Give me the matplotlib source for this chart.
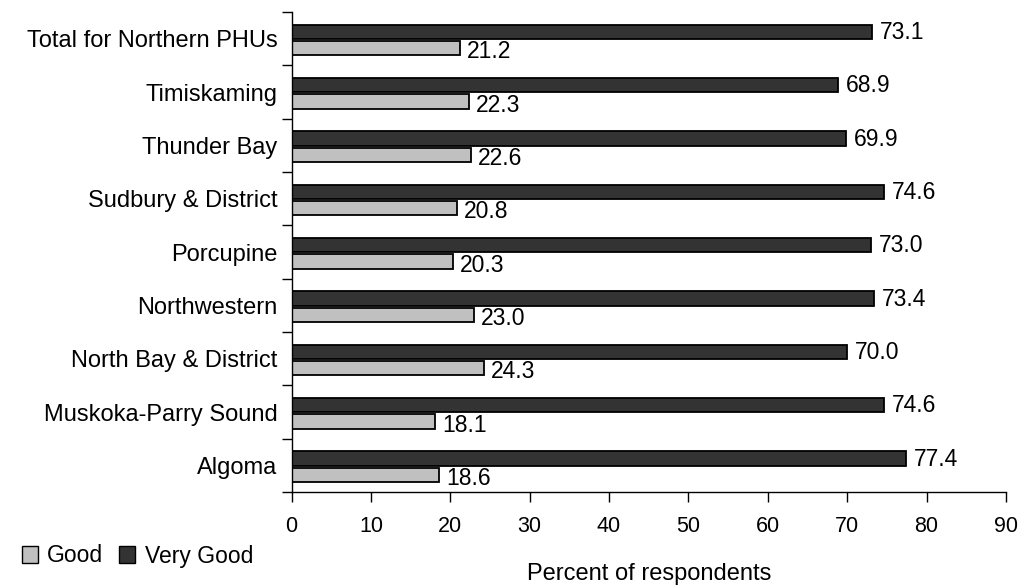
import matplotlib
matplotlib.use("Agg")
import matplotlib.pyplot as plt
import numpy as np
from matplotlib.patches import Patch

plt.rcParams['font.family'] = ['Liberation Sans', 'DejaVu Sans']

categories = ["Algoma", "Muskoka-Parry Sound", "North Bay & District", "Northwestern",
              "Porcupine", "Sudbury & District", "Thunder Bay", "Timiskaming",
              "Total for Northern PHUs"]
good = [18.6, 18.1, 24.3, 23.0, 20.3, 20.8, 22.6, 22.3, 21.2]
very_good = [77.4, 74.6, 70.0, 73.4, 73.0, 74.6, 69.9, 68.9, 73.1]
x_ticks = [0, 10, 20, 30, 40, 50, 60, 70, 80, 90]

c_good = "#c0c0c0"
c_vgood = "#333333"
fs_text = 17
fs_tick = 15.5
fs_val = 16.5

fig = plt.figure(figsize=(10.22, 5.85), dpi=100)
ax = fig.add_axes([291.5 / 1022, 1 - 492 / 585, 714.5 / 1022, 480 / 585])

y = np.arange(len(categories))
h = 0.27
off_vg = 0.13
off_g = 0.18
ax.barh(y + off_vg, very_good, height=h, color=c_vgood, edgecolor="black", linewidth=1.3)
ax.barh(y - off_g, good, height=h, color=c_good, edgecolor="black", linewidth=1.3)

for yi, v in zip(y, very_good):
    ax.annotate(f"{v:.1f}", (v, yi + off_vg), xytext=(5.5, -0.5), textcoords="offset points",
                va="center", ha="left", fontsize=fs_val)
for yi, v in zip(y, good):
    ax.annotate(f"{v:.1f}", (v, yi - off_g), xytext=(5, -2.5), textcoords="offset points",
                va="center", ha="left", fontsize=fs_val)

ax.set_xlim(0, 90)
ax.set_ylim(-0.5, len(categories) - 0.5)
ax.set_xticks(x_ticks)
ax.set_xticklabels([str(t) for t in x_ticks], fontsize=fs_tick)
ax.set_yticks(y)
ax.set_yticklabels(categories, fontsize=fs_text)
ax.set_yticks(np.arange(-0.5, len(categories)), minor=True)
ax.tick_params(axis="y", which="major", length=0, pad=10)
ax.tick_params(axis="y", which="minor", length=7, width=1, direction="out")
ax.tick_params(axis="x", length=7, width=1, direction="out", pad=10)
for s in ["top", "right"]:
    ax.spines[s].set_visible(False)
for s in ["left", "bottom"]:
    ax.spines[s].set_linewidth(1)

ax.set_xlabel("Percent of respondents", fontsize=fs_text, labelpad=19)

handles = [Patch(facecolor=c_good, edgecolor="black", linewidth=1, label="Good"),
           Patch(facecolor=c_vgood, edgecolor="black", linewidth=1, label="Very Good")]
fig.legend(handles=handles, loc="center left", bbox_to_anchor=(22 / 1022, 1 - 556 / 585),
           ncol=2, frameon=False, fontsize=16.5, handlelength=0.7, handleheight=0.7,
           handletextpad=0.4, columnspacing=0.7, borderpad=0, borderaxespad=0)

fig.savefig("out.png", dpi=100)
